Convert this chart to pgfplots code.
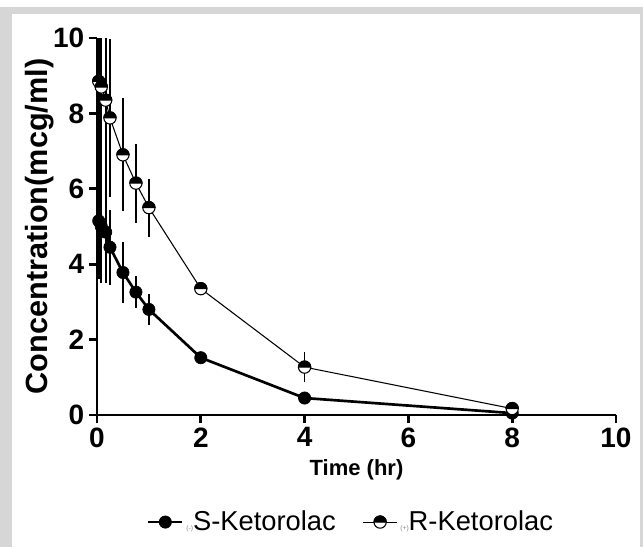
\documentclass[border=0pt]{standalone}
\usepackage{pgfplots}
\pgfplotsset{compat=1.18}
\usepackage{fontspec}
\setmainfont{Liberation Sans}

% open circle with its upper half filled
\pgfdeclareplotmark{tophalf}{%
  \pgfpathcircle{\pgfpointorigin}{\pgfplotmarksize}%
  \pgfsetfillcolor{white}%
  \pgfusepathqfillstroke
  \pgfpathmoveto{\pgfqpoint{\pgfplotmarksize}{0pt}}%
  \pgfpatharc{0}{180}{\pgfplotmarksize}%
  \pgfpathclose
  \pgfsetfillcolor{black}%
  \pgfusepathqfillstroke
}

\begin{document}
\begin{tikzpicture}
% page frame (1px = 0.75pt, axis origin at pixel (97,415))
\useasboundingbox (-72.75pt,-99pt) rectangle (409.5pt,311.25pt);
\fill[white] (-72.75pt,-99pt) rectangle (409.5pt,311.25pt);
\fill[black!16] (-72.75pt,-99pt) rectangle (409.5pt,306pt);
\fill[white] (-63.75pt,-99pt) rectangle (407.25pt,300.75pt);
\begin{axis}[
  scale only axis,
  width=389.25pt, height=282.75pt,
  xmin=0, xmax=10, ymin=0, ymax=10,
  xtick={0,2,...,10}, ytick={0,2,...,10},
  axis x line*=bottom, axis y line*=left,
  axis line style={-, line width=2.2pt, black},
  tick align=outside, major tick length=6pt,
  tick style={line width=2pt, black},
  /pgf/number format/assume math mode=true,
  ticklabel style={font=\fontsize{21}{23}\selectfont\bfseries},
  xlabel={Time (hr)},
  ylabel={Concentration(mcg/ml)},
  xlabel style={font=\fontsize{16.5}{18}\selectfont\bfseries,
    at={(axis description cs:0.5,-0.146)}, anchor=center},
  ylabel style={font=\fontsize{23}{25}\selectfont\bfseries,
    at={(axis description cs:-0.11,0.5)}, anchor=center},
  legend style={at={(0.49,-0.284)}, anchor=center, draw=none, fill=none,
    legend columns=2, font=\fontsize{20.5}{22}\selectfont,
    /tikz/every even column/.append style={column sep=18pt}},
  legend image code/.code={\draw[mark repeat=2, mark phase=2, #1]
    plot coordinates {(0cm,0cm) (0.45cm,0cm) (0.9cm,0cm)};},
  legend cell align=left,
]
\addplot+[black, line width=2pt, mark=*, mark size=4.6pt,
  mark options={solid, fill=black, line width=0.5pt},
  error bars/.cd, y dir=both, y explicit, error mark=none,
  error bar style={line width=1.3pt, black}]
  coordinates {
  (0.033,5.15) +- (0,1.55)
  (0.083,5.00) +- (0,1.5)
  (0.167,4.85) +- (0,1.35)
  (0.25,4.45) +- (0,1.0)
  (0.5,3.78) +- (0,0.82)
  (0.75,3.26) +- (0,0.42)
  (1,2.80) +- (0,0.4)
  (2,1.52) +- (0,0.05)
  (4,0.45) +- (0,0.05)
  (8,0.05) +- (0,0.05)
  };
\addplot+[black, line width=0.8pt, mark=tophalf, mark size=4.6pt,
  mark options={solid, line width=0.8pt},
  error bars/.cd, y dir=both, y explicit, error mark=none,
  error bar style={line width=1.3pt, black}]
  coordinates {
  (0.033,8.85) +- (0,3.0)
  (0.083,8.70) +- (0,3.0)
  (0.167,8.35) +- (0,2.6)
  (0.25,7.88) +- (0,2.1)
  (0.5,6.90) +- (0,1.5)
  (0.75,6.15) +- (0,1.05)
  (1,5.50) +- (0,0.77)
  (2,3.35) +- (0,0.1)
  (4,1.27) +- (0,0.4)
  (8,0.17) +- (0,0.1)
  };
\legend{{\tiny\color{gray}(-)}S-Ketorolac, {\tiny\color{gray}(+)}R-Ketorolac}
\end{axis}
\end{tikzpicture}
\end{document}
